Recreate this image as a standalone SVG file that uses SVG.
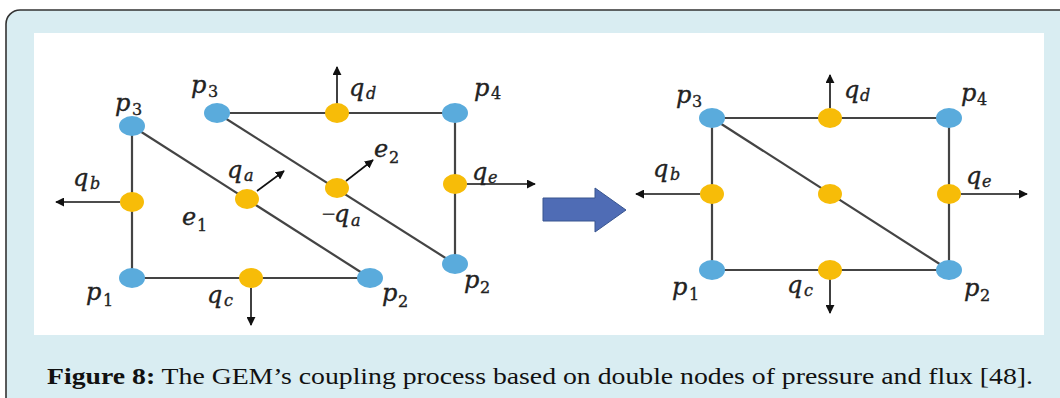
<svg xmlns="http://www.w3.org/2000/svg" width="1060" height="398" viewBox="0 0 1060 398">
<style>
.edge{stroke:#444;stroke-width:2.2;fill:none}
.flux{stroke:#111;stroke-width:1.6;fill:none;marker-end:url(#ah)}
.pn{fill:#5AABDC}
.qn{fill:#F7BC08}
.m{font-family:"DejaVu Serif",serif;font-style:italic;font-size:24px;fill:#222;stroke:#222;stroke-width:0.35}
.s{font-size:16px}
.d{font-style:normal}
.cap{font-family:"Liberation Serif",serif;font-size:24px;fill:#111}
</style>
<defs>
<marker id="ah" viewBox="0 0 10 10" refX="9" refY="5" markerWidth="9" markerHeight="9" markerUnits="userSpaceOnUse" orient="auto">
<path d="M0,0 L10,5 L0,10 z" fill="#111"/>
</marker>
</defs>
<rect x="6" y="10" width="1090" height="420" rx="14" fill="#D9EDF2" stroke="#333" stroke-width="1.6"/>
<rect x="34" y="33" width="1010" height="302" fill="#FFFFFF"/>

<g id="connectors">
<line class="edge" x1="132" y1="126" x2="132" y2="278"/>
<line class="edge" x1="132" y1="278" x2="370" y2="278"/>
<line class="edge" x1="132" y1="126" x2="370" y2="278"/>
<line class="edge" x1="217" y1="113" x2="455" y2="113"/>
<line class="edge" x1="455" y1="113" x2="455" y2="264"/>
<line class="edge" x1="217" y1="113" x2="455" y2="264"/>
<line class="flux" x1="337" y1="104" x2="337" y2="67"/>
<line class="flux" x1="257" y1="191" x2="284" y2="171"/>
<line class="flux" x1="346" y1="181" x2="373" y2="160"/>
<line class="flux" x1="467" y1="184" x2="535" y2="184"/>
<line class="flux" x1="120" y1="202" x2="56" y2="202"/>
<line class="flux" x1="251" y1="288" x2="251" y2="325"/>
<line class="edge" x1="712" y1="118" x2="712" y2="270"/>
<line class="edge" x1="712" y1="118" x2="949" y2="118"/>
<line class="edge" x1="712" y1="270" x2="949" y2="270"/>
<line class="edge" x1="949" y1="118" x2="949" y2="270"/>
<line class="edge" x1="712" y1="118" x2="949" y2="270"/>
<line class="flux" x1="830" y1="108" x2="830" y2="75"/>
<line class="flux" x1="700" y1="194" x2="636" y2="194"/>
<line class="flux" x1="961" y1="194" x2="1027" y2="194"/>
<line class="flux" x1="830" y1="279" x2="830" y2="313"/>
</g>

<g id="transition-arrow">
<polygon points="543,198 595,198 595,188 626,210 595,232 595,221 543,221" fill="#4F6CB5" stroke="#38558F" stroke-width="1"/>
</g>

<g id="L-p3-e1">
<ellipse class="pn" cx="132" cy="126" rx="13" ry="10"/>
<text class="m" x="115" y="111">p<tspan class="s d" x="132" y="115">3</tspan></text>
</g>
<g id="L-p3-e2">
<ellipse class="pn" cx="217" cy="113" rx="13" ry="10"/>
<text class="m" x="191" y="93">p<tspan class="s d" x="208" y="97">3</tspan></text>
</g>
<g id="L-qd">
<ellipse class="qn" cx="337" cy="113" rx="12" ry="10"/>
<text class="m" x="349" y="96">q<tspan class="s" x="366" y="99">d</tspan></text>
</g>
<g id="L-p4">
<ellipse class="pn" cx="455" cy="113" rx="13" ry="10"/>
<text class="m" x="474" y="96">p<tspan class="s d" x="491" y="99">4</tspan></text>
</g>
<g id="L-qb">
<ellipse class="qn" cx="132" cy="202" rx="12" ry="10"/>
<text class="m" x="73" y="186">q<tspan class="s" x="90" y="189">b</tspan></text>
</g>
<g id="L-qa">
<ellipse class="qn" cx="247" cy="199" rx="12" ry="10"/>
<text class="m" x="227" y="178">q<tspan class="s" x="244" y="181">a</tspan></text>
</g>
<g id="L-minus-qa">
<ellipse class="qn" cx="337" cy="188" rx="12" ry="10"/>
<text class="m" x="322" y="222"><tspan style="font-family:'Liberation Serif',serif;font-style:normal">−</tspan><tspan x="334">q</tspan><tspan class="s" x="351" y="226">a</tspan></text>
<text class="m" x="374" y="157">e<tspan class="s d" x="389" y="163">2</tspan></text>
</g>
<g id="L-qe">
<ellipse class="qn" cx="455" cy="184" rx="12" ry="10"/>
<text class="m" x="472" y="180">q<tspan class="s" x="488" y="183">e</tspan></text>
</g>
<g id="L-e1">
<text class="m" x="182" y="225">e<tspan class="s d" x="197" y="231">1</tspan></text>
</g>
<g id="L-p1">
<ellipse class="pn" cx="132" cy="278" rx="13" ry="10"/>
<text class="m" x="86" y="300">p<tspan class="s d" x="103" y="306">1</tspan></text>
</g>
<g id="L-qc">
<ellipse class="qn" cx="251" cy="278" rx="12" ry="10"/>
<text class="m" x="207" y="303">q<tspan class="s" x="224" y="306">c</tspan></text>
</g>
<g id="L-p2-e1">
<ellipse class="pn" cx="370" cy="278" rx="13" ry="10"/>
<text class="m" x="382" y="301">p<tspan class="s d" x="398" y="307">2</tspan></text>
</g>
<g id="L-p2-e2">
<ellipse class="pn" cx="455" cy="264" rx="13" ry="10"/>
<text class="m" x="464" y="288">p<tspan class="s d" x="480" y="293">2</tspan></text>
</g>

<g id="R-p3">
<ellipse class="pn" cx="712" cy="118" rx="13" ry="10"/>
<text class="m" x="676" y="103">p<tspan class="s d" x="692" y="107">3</tspan></text>
</g>
<g id="R-qd">
<ellipse class="qn" cx="830" cy="118" rx="12" ry="10"/>
<text class="m" x="844" y="98">q<tspan class="s" x="860" y="101">d</tspan></text>
</g>
<g id="R-p4">
<ellipse class="pn" cx="949" cy="118" rx="13" ry="10"/>
<text class="m" x="961" y="101">p<tspan class="s d" x="977" y="105">4</tspan></text>
</g>
<g id="R-qb">
<ellipse class="qn" cx="712" cy="194" rx="12" ry="10"/>
<text class="m" x="653" y="177">q<tspan class="s" x="670" y="180">b</tspan></text>
</g>
<g id="R-qa">
<ellipse class="qn" cx="830" cy="194" rx="12" ry="10"/>
</g>
<g id="R-qe">
<ellipse class="qn" cx="949" cy="194" rx="12" ry="10"/>
<text class="m" x="966" y="184">q<tspan class="s" x="982" y="187">e</tspan></text>
</g>
<g id="R-p1">
<ellipse class="pn" cx="712" cy="270" rx="13" ry="10"/>
<text class="m" x="672" y="295">p<tspan class="s d" x="689" y="300">1</tspan></text>
</g>
<g id="R-qc">
<ellipse class="qn" cx="830" cy="270" rx="12" ry="10"/>
<text class="m" x="787" y="293">q<tspan class="s" x="804" y="296">c</tspan></text>
</g>
<g id="R-p2">
<ellipse class="pn" cx="949" cy="270" rx="13" ry="10"/>
<text class="m" x="964" y="296">p<tspan class="s d" x="980" y="301">2</tspan></text>
</g>

<g id="caption">
<text class="cap" x="47" y="384" textLength="986" lengthAdjust="spacingAndGlyphs"><tspan font-weight="bold">Figure 8:</tspan> The GEM’s coupling process based on double nodes of pressure and flux [48].</text>
</g>
</svg>
